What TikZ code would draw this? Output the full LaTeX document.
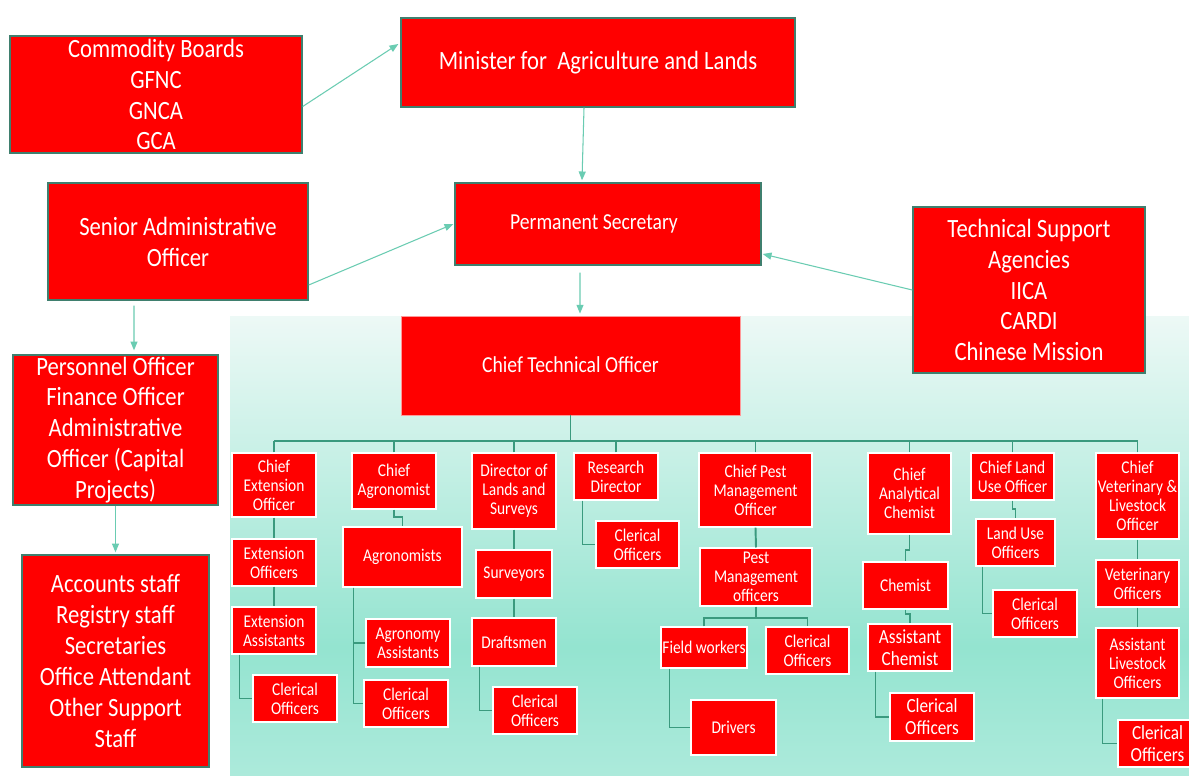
\documentclass[tikz,border=0pt]{standalone}
\usepackage{fontspec}
\setmainfont{Carlito}[FakeStretch=0.86]
\usetikzlibrary{calc,arrows.meta}
\definecolor{boxred}{HTML}{FF0000}
\definecolor{bigedge}{HTML}{3F7F6E}
\definecolor{treeline}{HTML}{3A9A7E}
\definecolor{arrowcol}{HTML}{6ACCB2}
\definecolor{bgtop}{HTML}{EDF9F6}
\definecolor{bgmid}{HTML}{94E4D0}
\definecolor{bgbot}{HTML}{ACEADB}
\pgfdeclareverticalshading{bgshade}{100bp}{color(0bp)=(bgbot); color(25bp)=(bgbot); color(39bp)=(bgmid); color(75bp)=(bgtop); color(100bp)=(bgtop)}
\tikzset{
  boxbase/.style={fill=boxred, text=white, align=center, inner sep=0pt},
  bigbox/.style={boxbase, draw=bigedge, line width=0.8pt, font=\fontsize{15}{17.6}\selectfont},
  minbox/.style={boxbase, draw=bigedge, line width=0.8pt, font=\fontsize{15}{17.6}\selectfont},
  midbox/.style={boxbase, draw=bigedge, line width=0.8pt, font=\fontsize{13}{15.6}\selectfont},
  ctobox/.style={boxbase, draw=boxred!40, line width=0.5pt, font=\fontsize{13}{15.6}\selectfont},
  smallbox/.style={boxbase, draw=white, line width=0.6pt, font=\fontsize{10.2}{10.8}\selectfont},
  medbox/.style={boxbase, draw=white, line width=0.6pt, font=\fontsize{11.4}{12.6}\selectfont},
  tree/.style={draw=treeline, line width=1.1pt},
  arr/.style={draw=arrowcol, line width=0.6pt, -{Triangle[length=5pt,width=4pt]}}
}
% name, x1, y1, x2, y2, style, text
\newcommand\bxn[7]{\node[#6, minimum width={(#4-#2)*0.02cm}, minimum height={(#5-#3)*0.02cm}] (#1) at ({(#2+#4)/2},{(#3+#5)/2}) {#7};}
\begin{document}
\begin{tikzpicture}[x=0.02cm, y=-0.02cm]
\clip (0,0) rectangle (1189,775);
\fill[white] (0,0) rectangle (1189,775);
\shade[shading=bgshade] (230,316) rectangle (1189,775);

% top-level boxes
\bxn{cb}{10}{36}{302}{153}{bigbox}{Commodity Boards\\GFNC\\GNCA\\GCA}
\bxn{min}{401}{18}{795}{107}{minbox}{\raisebox{-1.7pt}{Minister for~~Agriculture and Lands}}
\bxn{sao}{48}{183}{308}{300}{bigbox}{Senior Administrative\\Officer}
\bxn{ps}{455}{183}{761}{265}{midbox}{\raisebox{-2.2pt}{Permanent Secretary}\hspace*{16pt}}
\bxn{tsa}{913}{207}{1145}{373}{bigbox}{Technical Support\\Agencies\\IICA\\CARDI\\Chinese Mission}
\bxn{cto}{401}{316}{740}{415}{ctobox}{\raisebox{1pt}{Chief Technical Officer}}
\bxn{po}{13}{355}{218}{505}{bigbox}{Personnel Officer\\Finance Officer\\Administrative\\Officer (Capital\\Projects)}
\bxn{acc}{22}{555}{209}{767}{bigbox}{Accounts staff\\Registry staff\\Secretaries\\Office Attendant\\Other Support\\Staff}

% technical branch
\bxn{ceo}{232}{453}{316}{517}{smallbox}{Chief\\Extension\\Officer}
\bxn{eo}{232}{539}{316}{586}{smallbox}{Extension\\Officers}
\bxn{eas}{232}{607}{316}{654}{smallbox}{Extension\\Assistants}
\bxn{c1}{253}{675}{337}{722}{smallbox}{Clerical\\Officers}

\bxn{ca}{352}{453}{436}{509}{smallbox}{Chief\\Agronomist}
\bxn{ag}{343}{527}{462}{587}{smallbox}{Agronomists}
\bxn{aa}{366}{619}{450}{667}{smallbox}{Agronomy\\Assistants}
\bxn{c2}{364}{680}{448}{727}{smallbox}{Clerical\\Officers}

\bxn{dls}{472}{453}{556}{529}{smallbox}{Director of\\Lands and\\Surveys}
\bxn{sv}{476}{550}{552}{598}{smallbox}{Surveyors}
\bxn{df}{472}{618}{556}{666}{smallbox}{Draftsmen}
\bxn{c3}{493}{687}{577}{734}{smallbox}{Clerical\\Officers}

\bxn{rd}{574}{453}{658}{500}{smallbox}{Research\\Director}
\bxn{c4}{596}{521}{679}{568}{smallbox}{Clerical\\Officers}

\bxn{cpm}{699}{453}{812}{527}{smallbox}{Chief Pest\\Management\\Officer}
\bxn{pmo}{700}{548}{812}{606}{smallbox}{Pest\\Management\\officers}
\bxn{fw}{661}{627}{747}{668}{smallbox}{Field workers}
\bxn{c5}{766}{627}{849}{674}{smallbox}{Clerical\\Officers}
\bxn{dr}{691}{700}{776}{755}{smallbox}{Drivers}

\bxn{cac}{868}{453}{951}{534}{smallbox}{Chief\\Analytical\\Chemist}
\bxn{ch}{863}{562}{948}{609}{smallbox}{Chemist}
\bxn{ach}{868}{624}{952}{671}{medbox}{Assistant\\Chemist}
\bxn{c6}{890}{693}{974}{741}{medbox}{Clerical\\Officers}

\bxn{clu}{971}{453}{1054}{500}{smallbox}{Chief Land\\Use Officer}
\bxn{luo}{976}{519}{1055}{566}{smallbox}{Land Use\\Officers}
\bxn{c7}{993}{590}{1077}{637}{smallbox}{Clerical\\Officers}

\bxn{cvl}{1096}{453}{1179}{539}{smallbox}{Chief\\Veterinary \&\\Livestock\\Officer}
\bxn{vo}{1096}{560}{1179}{607}{smallbox}{Veterinary\\Officers}
\bxn{alo}{1096}{628}{1179}{698}{smallbox}{Assistant\\Livestock\\Officers}
\bxn{c8}{1118}{720}{1197}{767}{medbox}{Clerical\\Officers}

% tree connectors
\coordinate (bus) at (571,441);
\draw[tree] (cto.south) -- (cto.south |- bus);
\draw[tree] (ceo.north |- bus) -- (cvl.north |- bus);
\foreach \n in {ceo,ca,dls,rd,cpm,cac,clu,cvl}{\draw[tree] (\n.north) -- (\n.north |- bus);}
\draw[tree] (ceo.south) -- (eo.north);
\draw[tree] (eo.south) -- (eas.north);
\draw[tree] ($(eas.south west)+(8,0)$) |- (c1.west);
\draw[tree] (ca.south) -- ++(0,7) -| (ag.north);
\draw[tree] ($(ag.south west)+(11,0)$) |- (aa.west);
\draw[tree] ($(ag.south west)+(11,0)$) |- (c2.west);
\draw[tree] (dls.south) -- (sv.north);
\draw[tree] (sv.south) -- (df.north);
\draw[tree] ($(df.south west)+(8,0)$) |- (c3.west);
\draw[tree] ($(rd.south west)+(9,0)$) |- (c4.west);
\draw[tree] (cpm.south) -- (pmo.north);
\draw[tree] (pmo.south) -- ++(0,11) coordinate (pb);
\draw[tree] (fw.north) |- (pb) -| (c5.north);
\draw[tree] ($(fw.south west)+(9,0)$) |- (dr.west);
\draw[tree] (cac.south) -- ++(0,15) -| (ch.north);
\draw[tree] (ch.south) -- ++(0,4) -| (ach.north);
\draw[tree] ($(ach.south west)+(8,0)$) |- (c6.west);
\draw[tree] (clu.south) -- ++(0,8) -| (luo.north);
\draw[tree] ($(luo.south west)+(7,0)$) |- (c7.west);
\draw[tree] (cvl.south) -- (vo.north);
\draw[tree] (vo.south) -- (alo.north);
\draw[tree] ($(alo.south west)+(7,0)$) |- (c8.west);

% arrows
\draw[arr] ($(cb.east)+(0,12)$) -- ($(min.west)+(-2,-18.5)$);
\draw[arr] ($(min.south)+(-14,0)$) -- ($(ps.north)+(-26,-2)$);
\draw[arr] ($(sao.east)+(0,43.5)$) -- ($(ps.west)+(-1,0)$);
\draw[arr] (tsa.west) -- ($(ps.east)+(1,30)$);
\draw[arr] ($(ps.south)+(-28,7)$) -- ($(cto.north)+(9.5,-2)$);
\draw[arr] ($(sao.south)+(-44,5)$) -- ($(po.north)+(18.5,-4)$);
\draw[arr] (po.south) -- ($(acc.north)+(0,-2)$);
\end{tikzpicture}
\end{document}
